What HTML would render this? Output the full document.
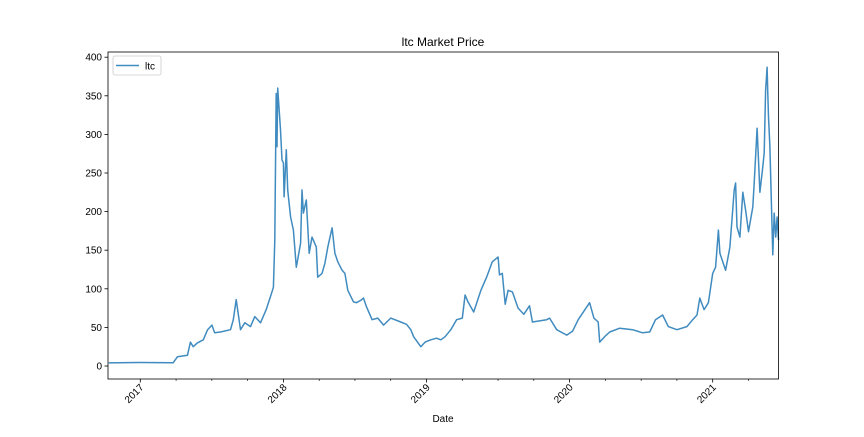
<!DOCTYPE html>
<html><head><meta charset="utf-8"><style>
body{margin:0;background:#fff;}
svg text{font-family:"Liberation Sans","DejaVu Sans",sans-serif;fill:#000;}
</style></head><body>
<svg id="chart" width="864" height="432" xmlns="http://www.w3.org/2000/svg"></svg>
<script>
const dates=[2016.78,2017.0,2017.23,2017.26,2017.33,2017.35,2017.37,2017.40,2017.44,2017.47,2017.50,2017.52,2017.56,2017.63,2017.65,2017.67,2017.70,2017.73,2017.77,2017.80,2017.84,2017.88,2017.91,2017.93,2017.94,2017.95,2017.955,2017.96,2017.98,2017.99,2018.00,2018.005,2018.02,2018.03,2018.05,2018.07,2018.09,2018.12,2018.13,2018.14,2018.16,2018.18,2018.20,2018.23,2018.24,2018.27,2018.29,2018.31,2018.34,2018.36,2018.38,2018.41,2018.43,2018.45,2018.49,2018.51,2018.54,2018.56,2018.58,2018.62,2018.66,2018.70,2018.75,2018.82,2018.86,2018.89,2018.91,2018.96,2018.99,2019.03,2019.07,2019.10,2019.13,2019.17,2019.21,2019.25,2019.27,2019.29,2019.33,2019.38,2019.42,2019.46,2019.50,2019.51,2019.53,2019.55,2019.57,2019.60,2019.64,2019.68,2019.72,2019.74,2019.84,2019.86,2019.91,2019.98,2020.02,2020.06,2020.10,2020.14,2020.17,2020.20,2020.21,2020.25,2020.28,2020.35,2020.44,2020.51,2020.56,2020.60,2020.65,2020.69,2020.75,2020.82,2020.86,2020.89,2020.91,2020.94,2020.97,2021.00,2021.02,2021.04,2021.05,2021.09,2021.12,2021.15,2021.16,2021.17,2021.19,2021.21,2021.23,2021.25,2021.28,2021.29,2021.31,2021.33,2021.35,2021.36,2021.37,2021.38,2021.385,2021.39,2021.40,2021.41,2021.42,2021.43,2021.44,2021.45,2021.46];
const prices=[4,4.5,4.3,12,14,31,25,30,34,47,53,43,44,47,60,86,47,56,51,64,56,73,90,102,163,353,284,360,306,267,263,219,280,228,193,176,128,159,228,198,215,146,167,154,115,120,133,154,179,146,135,124,120,98,83,82,85,88,77,60,62,53,62,57,54,47,38,25,31,34,36,34,38,47,60,62,92,83,70,98,115,135,141,118,120,80,98,96,75,67,78,57,60,62,47,40,45,60,71,82,62,57,31,39,44,49,47,43,44,60,66,51,47,51,60,66,88,73,82,120,128,176,146,124,154,228,237,180,167,225,202,174,206,237,308,225,258,276,357,387,353,323,284,211,144,198,167,193,163];
const yTicks=[0,50,100,150,200,250,300,350,400];
const xTicks=[2017,2018,2019,2020,2021];
const xMin=2016.775, xMax=2021.4606;
const L=108,R=778.5,T=52,B=379;
function X(v){return 140.3+(v-2017)*143.1;}
function Y(v){return 366-v*0.772;}
const svg=document.getElementById('chart');
const NS='http://www.w3.org/2000/svg';
function el(tag,attrs,parent){const e=document.createElementNS(NS,tag);for(const k in attrs)e.setAttribute(k,attrs[k]);(parent||svg).appendChild(e);return e;}
// line
let d='';
for(let i=0;i<dates.length;i++){d+=(i?'L':'M')+X(dates[i]).toFixed(1)+','+Y(prices[i]).toFixed(1);}
const line=el('path',{d:d,fill:'none',stroke:'#1f77b4','stroke-width':1.5,'stroke-opacity':0.85,'stroke-linejoin':'round'});


// frame
const frame=el('rect',{x:L,y:T,width:R-L,height:B-T,fill:'none',stroke:'#000','stroke-width':0.8});


// y ticks
yTicks.forEach(v=>{
  const y=Y(v);
  el('line',{x1:L-3.5,x2:L,y1:y,y2:y,stroke:'#000','stroke-width':0.8});
  const t=el('text',{x:L-6,y:y+3.5,'text-anchor':'end','font-size':10});
  t.textContent=v;
  
  
});
// x ticks major
xTicks.forEach(v=>{
  const x=X(v);
  el('line',{x1:x,x2:x,y1:B,y2:B+3.5,stroke:'#000','stroke-width':0.8});
  const t=el('text',{x:0,y:0,'text-anchor':'end','font-size':10,transform:`translate(${x+4},${B+9}) rotate(-45)`});
  t.textContent=v;
  
  
});
// minor ticks quarterly
for(let y=2016.75;y<=xMax;y+=0.25){
  if(Math.abs(y-Math.round(y))<0.01)continue;
  const x=X(y); if(x<L-0.5||x>R+0.5)continue;
  el('line',{x1:x,x2:x,y1:B,y2:B+2,stroke:'#000','stroke-width':0.6});
}
const title=el('text',{x:443,y:46,'text-anchor':'middle','font-size':12});
title.textContent='ltc Market Price';


const xl=el('text',{x:443,y:422,'text-anchor':'middle','font-size':10});
xl.textContent='Date';


// legend
const lg=el('g',{});


el('rect',{x:113,y:56,width:48,height:19,rx:2,fill:'#fff',stroke:'#ccc','stroke-width':0.8},lg);
el('line',{x1:116,x2:139,y1:65.5,y2:65.5,stroke:'#1f77b4','stroke-opacity':0.85,'stroke-width':1.5},lg);
const lt=el('text',{x:145,y:69.5,'font-size':10},lg);
lt.textContent='ltc';


</script>
</body></html>
